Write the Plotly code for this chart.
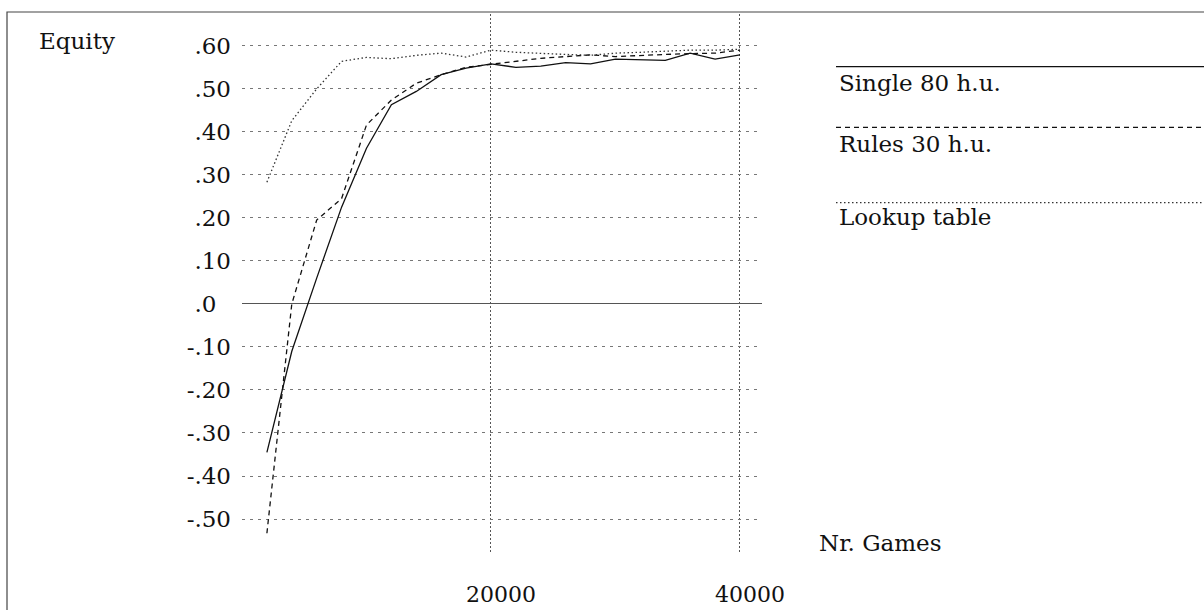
import plotly.graph_objects as go

# Training progress: equity against number of games played
games = [2000, 4000, 6000, 8000, 10000, 12000, 14000, 16000, 18000, 20000,
         22000, 24000, 26000, 28000, 30000, 32000, 34000, 36000, 38000, 40000]

single_80 = [-0.345, -0.110, 0.060, 0.225, 0.362, 0.463, 0.494, 0.533, 0.548, 0.558,
             0.550, 0.553, 0.561, 0.558, 0.569, 0.568, 0.566, 0.583, 0.569, 0.579]

rules_30 = [-0.533, 0.000, 0.195, 0.245, 0.416, 0.474, 0.513, 0.533, 0.550, 0.557,
            0.565, 0.571, 0.575, 0.579, 0.575, 0.578, 0.580, 0.582, 0.583, 0.590]

lookup_table = [0.283, 0.426, 0.500, 0.564, 0.573, 0.570, 0.578, 0.583, 0.574, 0.590,
                0.585, 0.582, 0.580, 0.578, 0.583, 0.585, 0.588, 0.590, 0.590, 0.592]

series_names = ["Single 80 h.u.", "Rules 30 h.u.", "Lookup table"]

y_ticks = [-0.5, -0.4, -0.3, -0.2, -0.1, 0.0, 0.1, 0.2, 0.3, 0.4, 0.5, 0.6]
y_tick_text = ["-.50", "-.40", "-.30", "-.20", "-.10", ".0\u2007",
               ".10", ".20", ".30", ".40", ".50", ".60"]
x_ticks = [20000, 40000]
x_tick_text = ["20000", "40000"]

FONT = "DejaVu Serif"
FSIZE = 23
INK = "#111111"

styles = [
    dict(color=INK, width=1.3, dash="solid"),
    dict(color=INK, width=1.3, dash="5px,4px"),
    dict(color="#333333", width=1.3, dash="1.5px,2.5px"),
]

fig = go.Figure()
for name, ys, st in zip(series_names, [single_80, rules_30, lookup_table], styles):
    fig.add_trace(go.Scatter(x=games, y=ys, mode="lines", name=name,
                             line=st, showlegend=False))

# plot area in pixels: x 242..762, y 14..553
W, H = 1204, 610
L, R, T, B = 242, 762, 14, 553


def px(xp):
    return (xp - L) / (R - L)


def py(yp):
    return (B - yp) / (B - T)


shapes = []
# outer frame
shapes.append(dict(type="rect", xref="paper", yref="paper",
                   x0=px(7), x1=px(1230), y0=py(630), y1=py(12),
                   line=dict(color="#444444", width=1.2), layer="below"))

# legend keys: a line above each label
legend_rows = [(66.7, 83), (127.3, 144), (202.7, 217)]
for (ly, ty), name, st in zip(legend_rows, series_names, styles):
    shapes.append(dict(type="line", xref="paper", yref="paper",
                       x0=px(836), x1=px(1230), y0=py(ly), y1=py(ly),
                       line=dict(color=st["color"], width=1.2, dash=st["dash"])))

annotations = []
for (ly, ty), name in zip(legend_rows, series_names):
    annotations.append(dict(text=name, xref="paper", yref="paper",
                            x=px(837), y=py(ty), xanchor="left", yanchor="middle",
                            showarrow=False, font=dict(family=FONT, size=FSIZE, color=INK)))

annotations.append(dict(text="Equity", xref="paper", yref="paper",
                        x=px(37), y=py(41), xanchor="left", yanchor="middle",
                        showarrow=False, font=dict(family=FONT, size=FSIZE, color=INK)))
annotations.append(dict(text="Nr. Games", xref="paper", yref="paper",
                        x=px(817), y=py(543), xanchor="left", yanchor="middle",
                        showarrow=False, font=dict(family=FONT, size=FSIZE, color=INK)))

fig.update_layout(
    width=W, height=H,
    margin=dict(l=L, r=W - R, t=T, b=H - B, pad=0, autoexpand=False),
    paper_bgcolor="white", plot_bgcolor="white",
    font=dict(family=FONT, size=FSIZE, color=INK),
    shapes=shapes, annotations=annotations,
    xaxis=dict(range=[0, 41770], tickvals=x_ticks, ticktext=x_tick_text,
               showgrid=True, gridcolor="#555555", gridwidth=1.2, griddash="2px,2px",
               zeroline=False, showline=False, ticks="", automargin=False,
               ticklabelstandoff=26, ticklabelshift=10,
               tickfont=dict(family=FONT, size=22, color=INK)),
    yaxis=dict(range=[-0.579, 0.674], tickvals=y_ticks, ticktext=y_tick_text,
               showgrid=True, gridcolor="#777777", gridwidth=1, griddash="3px,5px",
               zeroline=True, zerolinecolor="#555555", zerolinewidth=1.2,
               showline=False, ticks="", ticklabelstandoff=10, automargin=False),
)

fig.write_html("out.html")
